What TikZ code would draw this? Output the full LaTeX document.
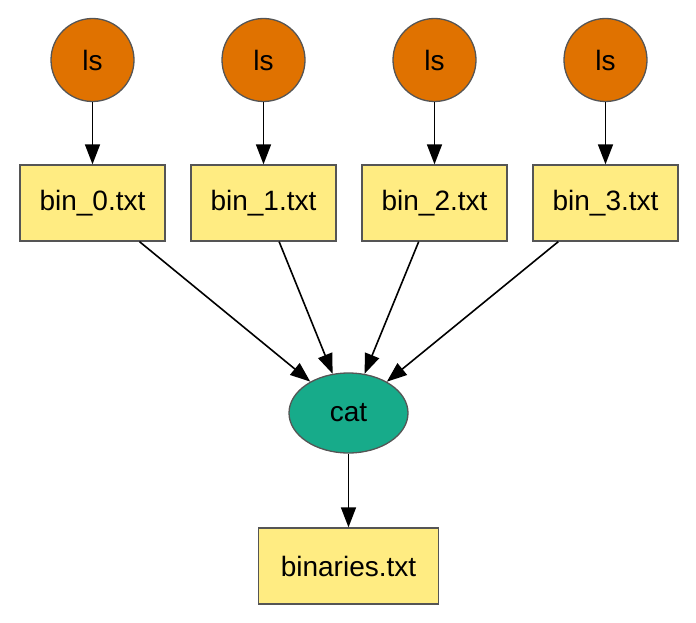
\documentclass[tikz,border=0pt]{standalone}
\usepackage{fontspec}
\setmainfont{Liberation Sans}
\usepackage{tikz}
\usetikzlibrary{arrows.meta,shapes.geometric}

\definecolor{lsorange}{RGB}{224,114,0}
\definecolor{fileyellow}{RGB}{255,236,130}
\definecolor{catgreen}{RGB}{23,171,138}
\definecolor{edgegray}{RGB}{85,85,85}

\tikzset{
    task/.style = {circle, draw=edgegray, line width=1.3pt, fill=lsorange,
        minimum size=83pt, inner sep=0pt},
    merge/.style = {ellipse, draw=edgegray, line width=1.3pt, fill=catgreen,
        minimum width=119pt, minimum height=80pt, inner sep=0pt},
    file/.style = {rectangle, draw=edgegray, line width=1.3pt, fill=fileyellow,
        minimum height=76pt, inner sep=0pt},
    flow/.style = {-{Triangle[length=20pt,width=15pt]}, line width=1.6pt, black},
}

\begin{document}
\begin{tikzpicture}[x=1pt, y=-1pt, font={\fontsize{28}{34}\selectfont}]
    \useasboundingbox (0, 0) rectangle (696, 623);
    % ls jobs and their outputs
    \foreach \i/\x in {0/92.5, 1/263.5, 2/434.5, 3/605.5} {
        \node[task] (ls\i) at (\x, 60) {ls};
        \node[file, minimum width=145pt] (bin\i) at (\x, 203) {bin\_\i.txt};
        \draw[flow] (ls\i) -- (bin\i);
    }
    \node[merge] (cat) at (348.5, 413) {cat};
    \node[file, minimum width=180pt] (binaries) at (348.5, 566) {binaries.txt};
    \foreach \i in {0, 1, 2, 3} {
        \draw[flow] (bin\i) -- (cat);
    }
    \draw[flow] (cat) -- (binaries);
\end{tikzpicture}
\end{document}
